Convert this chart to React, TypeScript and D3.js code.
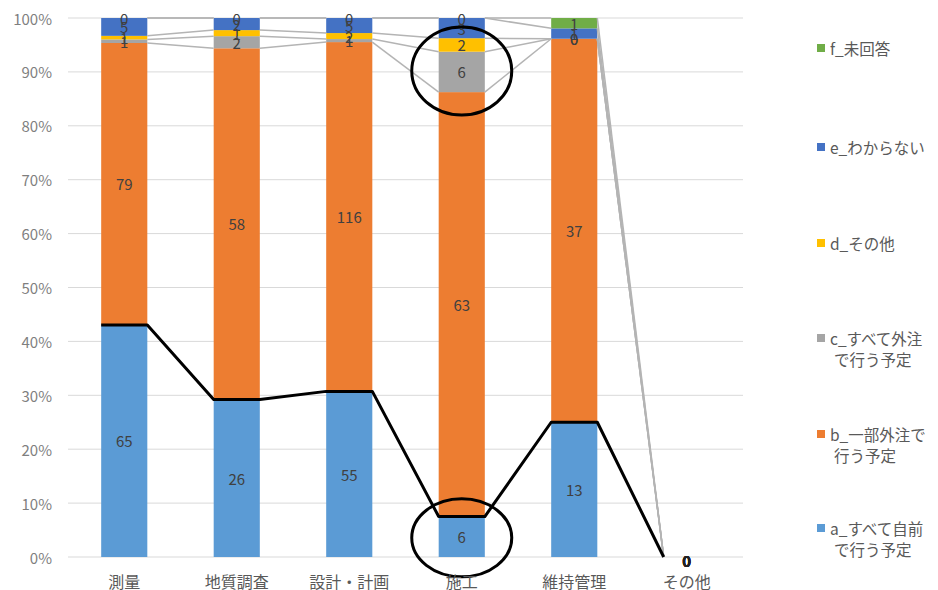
import React from "react";
import * as d3 from "d3";

// Categories along the x axis
const categories = ["測量", "地質調査", "設計・計画", "施工", "維持管理", "その他"];

// Response counts per category, one array per answer
const seriesA = [65, 26, 55, 6, 13, 0];
const seriesB = [79, 58, 116, 63, 37, 0];
const seriesC = [1, 2, 1, 6, 0, 0];
const seriesD = [1, 1, 2, 2, 0, 0];
const seriesE = [5, 2, 5, 3, 1, 0];
const seriesF = [0, 0, 0, 0, 1, 0];

const seriesKeys = ["a", "b", "c", "d", "e", "f"];
const seriesNames = [
  ["a_すべて自前", "で行う予定"],
  ["b_一部外注で", "行う予定"],
  ["c_すべて外注", "で行う予定"],
  ["d_その他"],
  ["e_わからない"],
  ["f_未回答"],
];
const seriesColors = ["#5b9bd5", "#ed7d31", "#a5a5a5", "#ffc000", "#4472c4", "#70ad47"];

const yTicks = [0, 0.1, 0.2, 0.3, 0.4, 0.5, 0.6, 0.7, 0.8, 0.9, 1];

// Categories that get a highlight ring, with the series ring center
const highlightRings = [
  { category: "施工", key: "c" },
  { category: "施工", key: "a" },
];

const W = 938;
const H = 590;
const FONT = "'Noto Sans CJK JP', 'Noto Sans', sans-serif";

type Row = { category: string; [k: string]: number | string };

const rows: Row[] = categories.map((c, i) => ({
  category: c,
  a: seriesA[i],
  b: seriesB[i],
  c: seriesC[i],
  d: seriesD[i],
  e: seriesE[i],
  f: seriesF[i],
}));

export default function App() {
  const x = d3
    .scaleBand<string>()
    .domain(categories)
    .range([68, 743])
    .paddingInner(0.59)
    .paddingOuter(0.295);
  const y = d3.scaleLinear().domain([0, 1]).range([557, 18]);
  const bw = x.bandwidth();

  const stack = d3
    .stack<Row>()
    .keys(seriesKeys)
    .value((d, k) => d[k] as number)
    .offset(d3.stackOffsetExpand);
  const layers = stack(rows);

  // Series lines between neighbouring bars, at each series' top
  const seriesLines = layers.map((layer) => {
    const segs: [number, number, number, number][] = [];
    for (let i = 0; i < layer.length - 1; i++) {
      const c0 = categories[i];
      const c1 = categories[i + 1];
      segs.push([
        (x(c0) as number) + bw,
        y(layer[i][1]),
        x(c1) as number,
        y(layer[i + 1][1]),
      ]);
    }
    return segs;
  });

  // Bold outline tracing the top of series a across all bars
  const aLayer = layers[0];
  const aPoints: [number, number][] = [];
  categories.forEach((c, i) => {
    const top = y(aLayer[i][1]);
    const x0 = x(c) as number;
    if (i < categories.length - 1) {
      aPoints.push([x0, top], [x0 + bw, top]);
    } else {
      aPoints.push([x0, top]);
    }
  });
  const aLine = d3.line()(aPoints) as string;

  const legendY = [528, 434, 338, 243, 147, 48];

  return (
    <svg
      width={W}
      height={H}
      style={{ position: "absolute", left: 0, top: 0, background: "#fff" }}
      fontFamily={FONT}
    >
      {/* gridlines */}
      {yTicks.map((t) => (
        <line
          key={t}
          x1={68}
          x2={743}
          y1={y(t)}
          y2={y(t)}
          stroke="#d9d9d9"
          strokeWidth={1}
        />
      ))}
      {/* y tick labels */}
      {yTicks.map((t) => (
        <text
          key={"t" + t}
          x={52}
          y={y(t)}
          textAnchor="end"
          dominantBaseline="central"
          fontSize={15}
          fill="#7f7f7f"
        >
          {d3.format(".0%")(t)}
        </text>
      ))}
      {/* bars */}
      {layers.map((layer, si) => (
        <g key={layer.key} fill={seriesColors[si]}>
          {layer.map((d, i) => (
            <rect
              key={i}
              x={x(categories[i])}
              y={y(d[1])}
              width={bw}
              height={Math.max(0, y(d[0]) - y(d[1]))}
            />
          ))}
        </g>
      ))}
      {/* series lines */}
      {seriesLines.slice(1).map((segs, si) => (
        <g key={"sl" + si} stroke="#b4b4b4" strokeWidth={1.5}>
          {segs.map((s, i) => (
            <line key={i} x1={s[0]} y1={s[1]} x2={s[2]} y2={s[3]} />
          ))}
        </g>
      ))}
      {/* data labels */}
      {layers.map((layer) =>
        layer.map((d, i) => {
          const total = d3.sum(layers, (l) => (l[i].data[l.key] as number));
          const v = d.data[layer.key] as number;
          return (
            <text
              key={layer.key + i}
              x={(x(categories[i]) as number) + bw / 2}
              y={(y(d[0]) + y(d[1])) / 2 + (total === 0 ? 3 : 0)}
              textAnchor="middle"
              dominantBaseline="central"
              fontSize={15}
              fontWeight={total === 0 ? "bold" : "normal"}
              fill={total === 0 ? "#222" : "#404040"}
            >
              {v}
            </text>
          );
        })
      )}
      {/* series a outline */}
      <path d={aLine} fill="none" stroke="#000" strokeWidth={3} strokeLinejoin="round" />
      {/* highlight rings */}
      {highlightRings.map((r, i) => {
        const ci = categories.indexOf(r.category);
        const layer = layers[seriesKeys.indexOf(r.key)];
        const cy = (y(layer[ci][0]) + y(layer[ci][1])) / 2;
        return (
          <ellipse
            key={i}
            cx={(x(r.category) as number) + bw / 2}
            cy={r.key === "a" ? cy + 1 : cy - 1}
            rx={50}
            ry={r.key === "a" ? 39 : 44}
            fill="none"
            stroke="#000"
            strokeWidth={3}
          />
        );
      })}
      {/* category labels */}
      {categories.map((c) => (
        <text
          key={"c" + c}
          x={(x(c) as number) + bw / 2}
          y={581}
          textAnchor="middle"
          dominantBaseline="central"
          fontSize={16}
          fill="#595959"
        >
          {c}
        </text>
      ))}
      {/* legend */}
      {seriesKeys.map((k, i) => (
        <g key={"lg" + k}>
          <rect x={817} y={legendY[i] - 4} width={8} height={8} fill={seriesColors[i]} />
          {seriesNames[i].map((line, li) => (
            <text
              key={li}
              x={li === 0 ? 830 : 834}
              y={legendY[i] + li * 21}
              dominantBaseline="central"
              fontSize={15.5}
              fill="#595959"
            >
              {line}
            </text>
          ))}
        </g>
      ))}
    </svg>
  );
}
